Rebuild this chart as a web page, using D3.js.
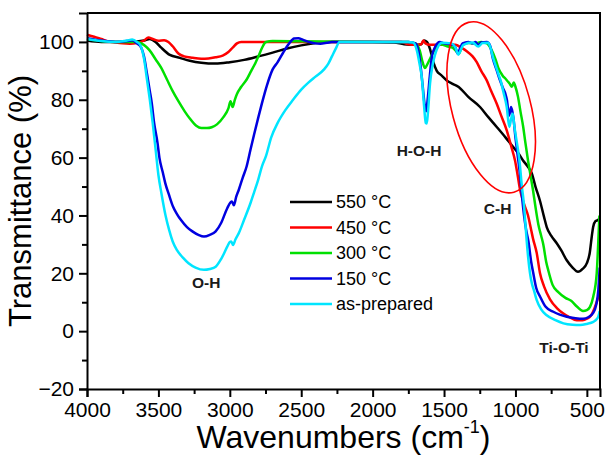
<!DOCTYPE html>
<html>
<head>
  <meta charset="utf-8">
  <script src="https://d3js.org/d3.v7.min.js"></script>
  <style>
    body { margin: 0; background: #fff; }
    text { font-family: "Liberation Sans", Arial, sans-serif; }
  </style>
</head>
<body>
  <svg id="ftir"></svg>
  <script>
    // series labels and colours
    var seriesNames = ["550 \u00B0C", "450 \u00B0C", "300 \u00B0C", "150 \u00B0C", "as-prepared"];
    var seriesColors = ["#000000", "#ff0000", "#00e000", "#0000e0", "#00e5ff"];

    // [wavenumber, transmittance]
    var t550 = [[4000,100.5],[3900,100],[3700,100],[3600,100.5],[3560,101],[3520,100],[3480,98],[3420,95.5],[3350,94.5],[3280,93.5],[3200,92.8],[3100,92.5],[3000,93],[2900,93.8],[2800,95],[2700,96.3],[2600,97.7],[2500,98.8],[2400,99.6],[2300,100],[2000,100],[1850,99.8],[1780,99.2],[1700,99],[1660,99.2],[1640,100.5],[1620,100],[1598,97.5],[1575,93],[1551,90],[1520,88.5],[1481,86.7],[1440,85.5],[1400,84.5],[1388,84],[1330,81],[1248,77.5],[1190,74],[1131,70.6],[1070,67],[1017,63.7],[980,61.5],[947,59],[915,57],[886,54.6],[860,50],[828,45],[800,39.5],[781,36],[750,33],[711,30.4],[680,28],[641,24.5],[600,22],[562,20.5],[530,21.5],[500,23.5],[480,27],[465,33],[456,36],[440,38],[420,38.5],[410,39]];
    var t450 = [[4000,102.5],[3950,101.8],[3900,101],[3850,100.2],[3800,99.8],[3750,99.5],[3700,99.4],[3650,99.6],[3600,100.5],[3570,101.5],[3540,101],[3500,100.4],[3460,100.6],[3430,100],[3400,98.5],[3360,96],[3320,95],[3260,94.5],[3200,94.2],[3150,94.3],[3100,94.7],[3050,95.3],[3010,96.5],[2980,98],[2950,99.5],[2920,100],[2500,100],[2000,100],[1800,100],[1760,99.3],[1700,99],[1660,99.2],[1645,100.5],[1630,99.5],[1600,99],[1500,99],[1420,99],[1380,98],[1341,96.8],[1300,95],[1271,93],[1240,90],[1201,86.7],[1170,83],[1131,78.6],[1100,74.5],[1061,69.4],[1030,64],[1003,59],[985,54],[968,49],[940,44],[912,40],[890,35],[877,32],[851,27],[828,20],[800,15.5],[758,11],[710,8],[667,6.2],[620,4.8],[571,3.8],[530,3.8],[500,4.3],[470,5.5],[443,8.4],[425,11],[410,14]];
    var t300 = [[4000,101],[3900,100.3],[3800,100],[3650,100],[3620,99.5],[3590,98.5],[3560,97],[3520,94],[3480,91],[3440,87],[3400,83],[3360,79.5],[3316,76],[3280,73.5],[3235,71],[3200,70.2],[3160,70.2],[3127,70.5],[3090,71.5],[3045,74],[3010,77],[2995,79.5],[2980,77.5],[2965,80],[2950,82],[2920,84.5],[2882,87],[2850,90],[2828,92],[2800,95],[2774,98],[2747,100],[2700,100.3],[2500,100.2],[2000,100],[1750,100],[1700,99.5],[1670,97],[1650,93],[1634,91],[1620,92],[1600,94],[1580,96],[1550,98.5],[1526,99.2],[1480,98.5],[1440,98],[1410,96.5],[1395,96],[1370,99],[1330,99.6],[1280,99.5],[1240,100],[1200,99.5],[1170,97.5],[1140,94],[1120,91],[1092,88.5],[1065,87],[1040,85.5],[1025,84.5],[1012,86],[1000,84.5],[982,81],[965,76],[947,71],[930,65],[912,59],[895,54],[877,48.7],[860,43],[840,37],[820,33],[805,30],[785,24],[770,21],[740,16],[700,13.5],[650,11.5],[610,10.5],[570,8.5],[527,7],[500,7.3],[478,8.4],[455,12],[431,20],[420,31],[412,40]];
    var t150 = [[4000,101.3],[3900,100.5],[3800,100],[3720,100.3],[3683,100.6],[3650,99.5],[3620,98],[3601,95],[3580,89],[3560,83],[3547,79],[3530,72],[3506,65],[3493,60],[3470,55],[3452,51.2],[3425,47],[3398,43.1],[3370,40.5],[3343,38.5],[3300,36],[3262,34.5],[3220,33.3],[3181,32.7],[3140,33.3],[3099,34.5],[3060,37.5],[3018,42.5],[2995,44.5],[2985,44.8],[2972,43.5],[2955,46.5],[2937,48.9],[2910,53],[2882,57],[2855,62.8],[2830,68],[2800,74],[2774,79],[2740,85],[2700,90.5],[2665,93],[2630,96],[2584,99.5],[2550,101.2],[2520,101.3],[2490,100.8],[2448,100],[2400,99.5],[2367,99.4],[2320,99.7],[2285,100],[2000,100],[1750,100],[1700,99.5],[1680,97],[1665,92],[1650,85],[1635,78],[1625,76],[1615,80],[1600,88],[1585,95],[1560,98.5],[1530,100],[1500,99.5],[1450,99.3],[1420,98],[1405,96],[1390,97.5],[1370,99.5],[1330,100],[1300,99.5],[1280,100],[1260,98.8],[1240,99.8],[1200,100],[1180,99],[1157,94],[1130,90],[1110,87],[1087,84],[1070,82],[1060,80],[1045,74.5],[1030,77.5],[1015,74],[1000,67],[985,61],[970,55],[955,47],[940,40],[925,35],[909,31],[890,24],[875,20],[855,15],[828,12],[790,8.5],[735,6.7],[690,5.7],[641,5],[580,4.5],[527,4.3],[490,4.8],[457,6.2],[435,9],[420,14],[410,22]];
    var tPrep = [[4000,101],[3900,100.3],[3800,100],[3720,100.5],[3683,100.8],[3650,100],[3628,99],[3600,94],[3580,87],[3560,80],[3540,72],[3520,63],[3500,54],[3479,47.7],[3450,40],[3425,35],[3400,31],[3370,28],[3330,25.5],[3289,23.5],[3240,22],[3181,21.2],[3140,21.5],[3099,22.3],[3060,25],[3018,29.2],[3000,30.8],[2990,31],[2977,29.8],[2960,31.8],[2937,33.9],[2900,38.5],[2855,44.3],[2830,48],[2801,52.4],[2775,57],[2747,60.5],[2710,67],[2665,72],[2610,76.5],[2557,80],[2500,83.5],[2448,86],[2400,88],[2340,90.5],[2310,92.5],[2285,95],[2260,97.5],[2231,100],[2200,100],[2000,100],[1750,100],[1717,99.8],[1690,97],[1670,92],[1656,87.8],[1640,78],[1628,72],[1621,71.8],[1612,76],[1598,85.7],[1580,92],[1563,95.6],[1540,98.5],[1516,99.7],[1450,99.5],[1420,98],[1400,95.6],[1385,97],[1365,99],[1300,99.8],[1260,98.4],[1230,99.6],[1190,99.7],[1175,98],[1157,94.6],[1140,92],[1120,89],[1100,86],[1087,83.2],[1061,77.5],[1043,70.6],[1030,73.5],[1019,75.2],[1008,71],[996,67],[983,63],[970,58],[955,50],[943,45],[930,37],[921,31],[910,25],[898,20],[885,16.5],[870,14],[851,10.7],[820,7.5],[781,5.5],[720,3.8],[664,2.7],[600,2.2],[548,2.1],[500,2.5],[455,3.2],[430,4.2],[420,5],[410,7]];
    var seriesData = [t550, t450, t300, t150, tPrep];

    var xTicks = [4000, 3500, 3000, 2500, 2000, 1500, 1000, 500];
    var xMinor = [3750, 3250, 2750, 2250, 1750, 1250, 750];
    var yTicks = [-20, 0, 20, 40, 60, 80, 100];
    var yMinor = [-10, 10, 30, 50, 70, 90];

    // band labels, placed at [wavenumber, transmittance]
    var bandLabels = [
      {text: "O-H", w: 3165, t: 15},
      {text: "H-O-H", w: 1675, t: 60.5},
      {text: "C-H", w: 1125, t: 40.5},
      {text: "Ti-O-Ti", w: 660, t: -7.5}
    ];
    // highlighted C-H region
    var ring = {w: 1170, t: 77.4, rw: 275, rt: 30.4, angle: -15};

    var width = 606, height = 459;
    var margin = {top: 13, right: 6, bottom: 70, left: 87};

    var x = d3.scaleLinear()
              .domain([4000, 408])
              .range([margin.left, width - margin.right]);
    var y = d3.scaleLinear()
              .domain([-20, 110])
              .range([height - margin.bottom, margin.top]);

    var svg = d3.select("#ftir")
                .attr("width", width)
                .attr("height", height);

    var line = d3.line()
                 .x(function(d) { return x(d[0]); })
                 .y(function(d) { return y(d[1]); })
                 .curve(d3.curveMonotoneX);

    svg.selectAll(".spectrum")
       .data(seriesData)
       .enter().append("path")
       .attr("class", "spectrum")
       .attr("d", line)
       .attr("fill", "none")
       .attr("stroke", function(d, i) { return seriesColors[i]; })
       .attr("stroke-width", 2.5)
       .attr("stroke-linejoin", "round");

    // frame
    svg.append("path")
       .attr("d", "M" + x(4000) + "," + margin.top + "H" + (width - margin.right) + "V" + y(-20))
       .attr("fill", "none")
       .attr("stroke", "#000")
       .attr("stroke-width", 2);

    var xAxis = svg.append("g")
                   .attr("transform", "translate(0," + y(-20) + ")")
                   .call(d3.axisBottom(x).tickValues(xTicks).tickFormat(d3.format("d")).tickSize(8).tickPadding(5));
    xAxis.append("g")
         .call(d3.axisBottom(x).tickValues(xMinor).tickFormat("").tickSize(5));

    var yAxis = svg.append("g")
                   .attr("transform", "translate(" + x(4000) + ",0)")
                   .call(d3.axisLeft(y).tickValues(yTicks).tickFormat(d3.format("d")).tickSize(8).tickPadding(5));
    yAxis.append("g")
         .call(d3.axisLeft(y).tickValues(yMinor).tickFormat("").tickSize(5));

    svg.selectAll(".domain").attr("stroke-width", 2);
    svg.selectAll(".tick line").attr("stroke-width", 2);
    svg.selectAll(".tick text")
       .attr("font-family", "Liberation Sans, Arial, sans-serif")
       .attr("font-size", 21)
       .attr("fill", "#000");
    svg.selectAll("g").filter(function() { return this.parentNode.tagName === "g"; })
       .selectAll(".domain").remove();

    // axis titles
    svg.append("text")
       .attr("transform", "translate(31," + y(45) + ") rotate(-90)")
       .attr("text-anchor", "middle")
       .attr("font-size", 31)
       .text("Transmittance (%)");

    var xt = svg.append("text")
                .attr("x", (margin.left + width - margin.right) / 2)
                .attr("y", 448)
                .attr("text-anchor", "middle")
                .attr("font-size", 32);
    xt.append("tspan").text("Wavenumbers (cm");
    xt.append("tspan").attr("font-size", 18).attr("dy", -15).text("-1");
    xt.append("tspan").attr("dy", 15).text(")");

    // band labels
    svg.selectAll(".band")
       .data(bandLabels)
       .enter().append("text")
       .attr("class", "band")
       .attr("x", function(d) { return x(d.w); })
       .attr("y", function(d) { return y(d.t); })
       .attr("text-anchor", "middle")
       .attr("font-family", "DejaVu Sans, sans-serif")
       .attr("font-weight", "bold")
       .attr("font-size", 15.5)
       .attr("fill", "#1a1a1a")
       .text(function(d) { return d.text; });

    svg.append("ellipse")
       .attr("cx", 0).attr("cy", 0)
       .attr("rx", Math.abs(x(4000) - x(4000 - ring.rw)))
       .attr("ry", Math.abs(y(0) - y(ring.rt)))
       .attr("transform", "translate(" + x(ring.w) + "," + y(ring.t) + ") rotate(" + ring.angle + ")")
       .attr("fill", "none")
       .attr("stroke", "#ff0000")
       .attr("stroke-width", 1.6);

    // legend
    var legend = svg.append("g")
                    .attr("transform", "translate(290,202)");
    var rows = legend.selectAll("g")
                     .data(seriesNames)
                     .enter().append("g")
                     .attr("transform", function(d, i) { return "translate(0," + (i * 25.5) + ")"; });
    rows.append("line")
        .attr("x1", 0).attr("x2", 42)
        .attr("stroke", function(d, i) { return seriesColors[i]; })
        .attr("stroke-width", 2.6);
    rows.append("text")
        .attr("x", 46)
        .attr("dy", "0.35em")
        .attr("font-size", 18)
        .text(function(d) { return d; });
  </script>
</body>
</html>
